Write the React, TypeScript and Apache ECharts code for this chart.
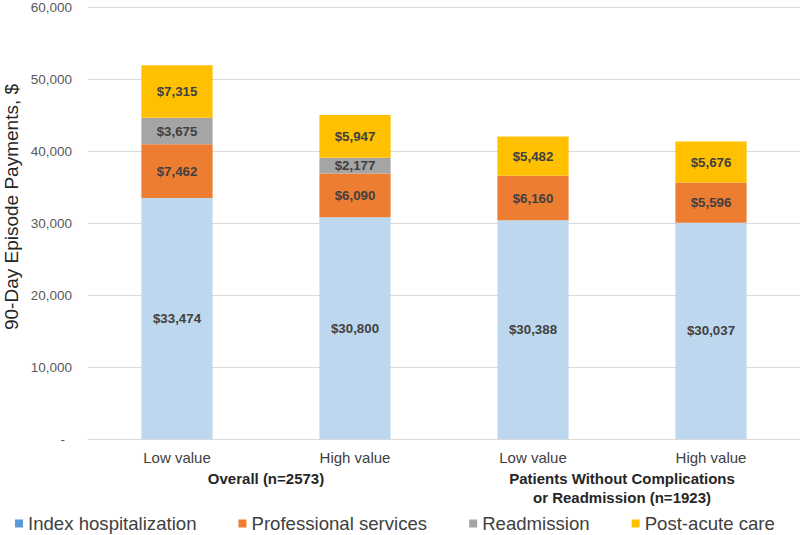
import React, { useEffect, useRef } from "react";
import * as echarts from "echarts";

const categories = ["Low value", "High value", "Low value", "High value"];
const groups = ["Overall (n=2573)", "Patients Without Complications\nor Readmission (n=1923)"];
const indexHosp = [33474, 30800, 30388, 30037];
const professional = [7462, 6090, 6160, 5596];
const readmission: (number | null)[] = [3675, 2177, null, null];
const postAcute = [7315, 5947, 5482, 5676];
const yTicks = [0, 10000, 20000, 30000, 40000, 50000, 60000];
const yTitle = "90-Day Episode Payments, $";

const FONT = "'Liberation Sans', Arial, sans-serif";

export default function App() {
  const ref = useRef<HTMLDivElement>(null);
  useEffect(() => {
    if (!ref.current) return;
    const chart = echarts.init(ref.current, undefined, { renderer: "svg" });
    const label = {
      show: true,
      position: "inside",
      fontFamily: FONT,
      fontSize: 13.3,
      fontWeight: "bold",
      color: "#404040",
      formatter: (p: any) => (p.value == null || p.value === 0 ? "" : "$" + Number(p.value).toLocaleString("en-US")),
    };
    const mk = (name: string, data: (number | null)[], color: string) => ({
      name,
      type: "bar",
      stack: "total",
      data,
      barWidth: "40%",
      itemStyle: { color },
      label,
      xAxisIndex: 0,
    });
    chart.setOption({
      animation: false,
      textStyle: { fontFamily: FONT },
      grid: { left: 88, right: 0, top: 5, bottom: 96, containLabel: false },
      graphic: [
        {
          type: "text",
          x: 11,
          y: 207,
          rotation: Math.PI / 2,
          style: {
            text: yTitle,
            fontSize: 19,
            fontFamily: FONT,
            fill: "#262626",
            align: "center",
            verticalAlign: "middle",
          },
        },
      ],
      xAxis: [
        {
          type: "category",
          data: categories,
          axisLine: { lineStyle: { color: "#D9D9D9", width: 1 } },
          axisTick: { show: false },
          axisLabel: { color: "#404040", fontSize: 15, margin: 11, fontFamily: FONT },
        },
        {
          type: "category",
          data: groups,
          position: "bottom",
          offset: 19,
          axisLine: { show: false },
          axisTick: { show: false },
          axisLabel: {
            color: "#262626",
            fontSize: 15,
            fontWeight: "bold",
            margin: 11,
            lineHeight: 19,
            fontFamily: FONT,
          },
        },
      ],
      yAxis: {
        type: "value",
        min: 0,
        max: 60000,
        interval: 10000,
        axisLine: { show: false },
        axisTick: { show: false },
        splitLine: { lineStyle: { color: "#D9D9D9", width: 1 } },
        axisLabel: {
          color: "#595959",
          fontSize: 13.5,
          margin: 16,
          fontFamily: FONT,
          formatter: (v: number) => (v === 0 ? "{d|-}" : v.toLocaleString("en-US")),
          rich: { d: { padding: [0, 7, 0, 0], fontSize: 13.5, color: "#595959" } },
          customValues: yTicks,
        },
      },
      legend: {
        top: 514,
        left: 15,
        padding: 0,
        itemWidth: 8,
        itemHeight: 8,
        itemGap: 42,
        icon: "rect",
        textStyle: { fontSize: 18.6, color: "#404040", fontFamily: FONT },
        data: [
          { name: "Index hospitalization", itemStyle: { color: "#5B9BD5" } },
          { name: "Professional services" },
          { name: "Readmission" },
          { name: "Post-acute care" },
        ],
      },
      series: [
        mk("Index hospitalization", indexHosp, "#BDD7EE"),
        mk("Professional services", professional, "#ED7D31"),
        mk("Readmission", readmission, "#A5A5A5"),
        mk("Post-acute care", postAcute, "#FFC000"),
      ],
    });
    return () => chart.dispose();
  }, []);
  return <div ref={ref} style={{ width: 800, height: 535, position: "absolute", left: 0, top: 0 }} />;
}
